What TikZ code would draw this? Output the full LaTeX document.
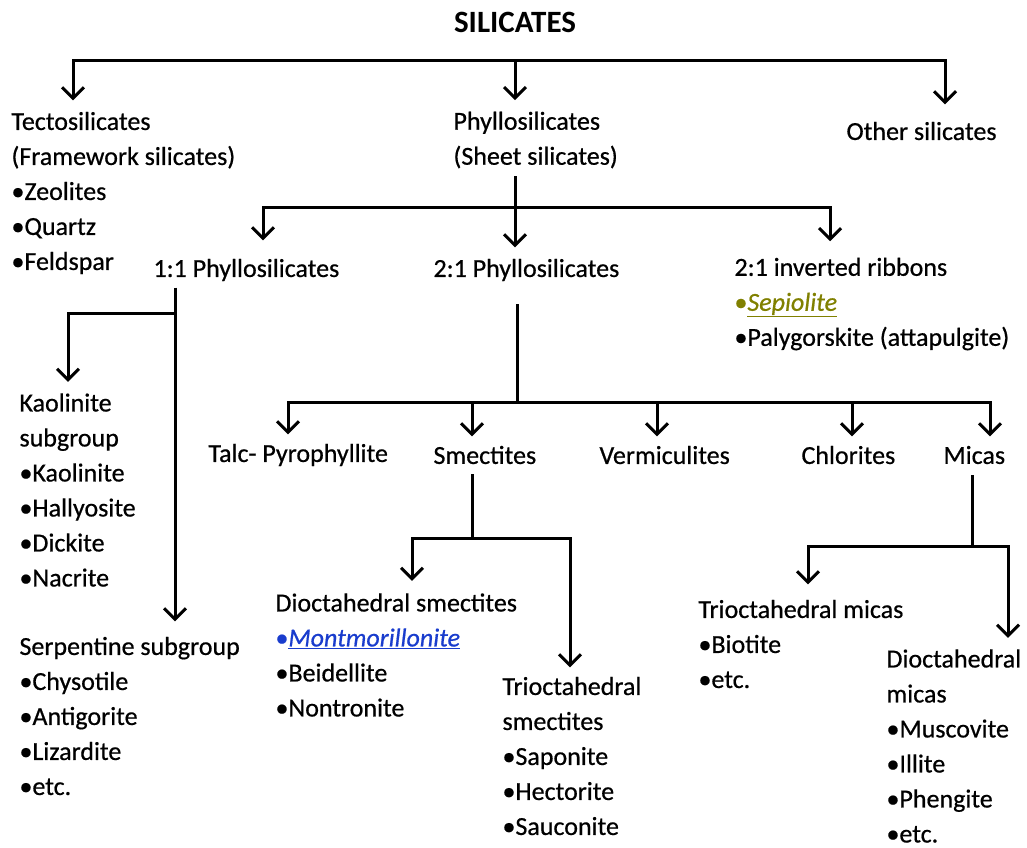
\documentclass[tikz,border=0pt]{standalone}
\usepackage{fontspec}
\setmainfont{Carlito}[UprightFeatures={FakeBold=0.6}, ItalicFeatures={FakeBold=0.6}]
\usetikzlibrary{arrows.meta}
\definecolor{sepolive}{RGB}{128,128,0}
\definecolor{montblue}{RGB}{25,60,205}

\begin{document}
\begin{tikzpicture}[x=1pt, y=-1pt, line width=3pt,
    lbl/.style={anchor=west, align=left, inner sep=0pt, font=\fontsize{26}{35}\selectfont},
    bar/.style={line cap=rect},
    arr/.style={-{Straight Barb[length=11pt,width=22pt]}, shorten >=10pt}]
    \useasboundingbox (0,0) rectangle (1027,847);

    % Title
    \node[font=\fontsize{31}{34}\selectfont\bfseries] (sil) at (515,22) {SILICATES};

    % Level 1
    \node[lbl] (tecto) at (10,193) {Tectosilicates\\(Framework silicates)\\•Zeolites\\•Quartz\\•Feldspar};
    \node[lbl] (phyllo) at (452,140) {Phyllosilicates\\(Sheet silicates)};
    \node[lbl] (other) at (845,131) {Other silicates};

    \coordinate (silL) at (73,60);
    \coordinate (silM) at (515,60);
    \coordinate (silR) at (945,60);
    \draw[bar] (silL) -- (silR);
    \draw[arr] (silL) -- (silL |- tecto.north);
    \draw[arr] (silM) -- (silM |- phyllo.north);
    \draw[arr, shorten >=16pt] (silR) -- (silR |- other.north);

    % Phyllosilicates
    \node[lbl] (onetoone) at (152,270) {1:1 Phyllosilicates};
    \node[lbl] (twotoone) at (432,270) {2:1 Phyllosilicates};
    \node[lbl] (ribbons) at (733,304) {2:1 inverted ribbons\\{\color{sepolive}•\underline{\textit{Sepiolite}}}\\•Palygorskite (attapulgite)};

    \coordinate (shL) at (263,207);
    \coordinate (shM) at (515,207);
    \coordinate (shR) at (830,207);
    \draw[bar, shorten <=8pt] (shM |- phyllo.south) -- (shM);
    \draw[bar] (shL) -- (shR);
    \draw[arr, shorten >=17pt] (shL) -- (shL |- onetoone.north);
    \draw[arr] (shM) -- (shM |- twotoone.north);
    \draw[arr, shorten >=15pt] (shR) -- (shR |- ribbons.north);

    % 1:1 Phyllosilicates
    \node[lbl] (kaolin) at (18,490) {Kaolinite\\subgroup\\•Kaolinite\\•Hallyosite\\•Dickite\\•Nacrite};
    \node[lbl] (serp) at (18,716) {Serpentine subgroup\\•Chysotile\\•Antigorite\\•Lizardite\\•etc.};

    \coordinate (ooS) at (175,313);
    \coordinate (ooK) at (68,313);
    \draw[arr, shorten <=5pt, shorten >=14pt] (ooS |- onetoone.south) -- (ooS |- serp.north);
    \draw[arr] (ooS) -| (ooK |- kaolin.north);

    % 2:1 Phyllosilicates
    \node[lbl] (talc) at (207,455) {Talc- Pyrophyllite};
    \node[lbl] (smect) at (432,455) {Smectites};
    \node[lbl] (vermic) at (598,455) {Vermiculites};
    \node[lbl] (chlor) at (800,455) {Chlorites};
    \node[lbl] (micas) at (942,455) {Micas};

    \coordinate (twS) at (517,402);
    \draw[bar, shorten <=23pt] (twS |- twotoone.south) -- (twS);
    \draw[bar] (288,402) -- (990,402);
    \foreach \x/\n in {288/talc,472/smect,657/vermic,852/chlor,990/micas} {
        \draw[arr, shorten >=8pt] (\x,402) -- (\x,402 |- \n.north);
    }

    % Smectites
    \node[lbl] (diosm) at (274,655) {Dioctahedral smectites\\{\color{montblue}•\underline{\textit{Montmorillonite}}}\\•Beidellite\\•Nontronite};
    \node[lbl] (triosm) at (501,756) {Trioctahedral\\smectites\\•Saponite\\•Hectorite\\•Sauconite};

    \coordinate (smS) at (472,538);
    \coordinate (smL) at (412,538);
    \coordinate (smR) at (570,538);
    \draw[bar, shorten <=10pt] (smS |- smect.south) -- (smS);
    \draw[arr, shorten >=11pt] (smS) -| (smL |- diosm.north);
    \draw[arr, shorten >=8pt] (smS) -| (smR |- triosm.north);

    % Micas
    \node[lbl] (triomic) at (697,644) {Trioctahedral micas\\•Biotite\\•etc.};
    \node[lbl] (diomic) at (885,746) {Dioctahedral\\micas\\•Muscovite\\•Illite\\•Phengite\\•etc.};

    \coordinate (miS) at (972,546);
    \coordinate (miL) at (808,546);
    \coordinate (miR) at (1008,546);
    \draw[bar, shorten <=11pt] (miS |- micas.south) -- (miS);
    \draw[arr, shorten >=14pt] (miS) -| (miL |- triomic.north);
    \draw[arr] (miS) -| (miR |- diomic.north);
\end{tikzpicture}
\end{document}
